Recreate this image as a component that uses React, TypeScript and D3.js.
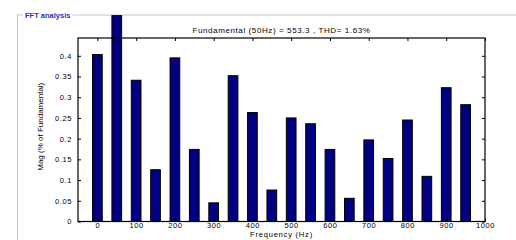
import { useRef, useEffect } from "react";
import * as d3 from "d3";

// harmonic frequencies (Hz) and magnitudes (% of fundamental)
const FREQS = [0, 50, 100, 150, 200, 250, 300, 350, 400, 450, 500, 550, 600, 650, 700, 750, 800, 850, 900, 950];
const MAGS = [0.403, 0.497, 0.341, 0.125, 0.395, 0.174, 0.045, 0.352, 0.263, 0.076, 0.25, 0.236, 0.174, 0.056, 0.197, 0.152, 0.245, 0.109, 0.323, 0.282];
const X_TICKS = [0, 100, 200, 300, 400, 500, 600, 700, 800, 900, 1000];
const Y_TICKS = [0, 0.05, 0.1, 0.15, 0.2, 0.25, 0.3, 0.35, 0.4];

const TITLE = "Fundamental (50Hz) = 553.3 , THD= 1.63%";
const X_LABEL = "Frequency (Hz)";
const Y_LABEL = "Mag (% of Fundamental)";
const PANEL_LABEL = "FFT analysis";

const W = 516;
const H = 240;

export default function App() {
  const svgRef = useRef<SVGSVGElement>(null);

  useEffect(() => {
    if (!svgRef.current) return;
    const svg = d3.select(svgRef.current);
    svg.selectAll("*").remove();

    const margin = { top: 38, right: 31, bottom: 18.5, left: 78 };
    const width = W - margin.left - margin.right;
    const height = H - margin.top - margin.bottom;
    const font = "Arial, 'Liberation Sans', sans-serif";

    // panel frame
    svg.append("line")
      .attr("x1", 17).attr("x2", W).attr("y1", 15).attr("y2", 15)
      .attr("stroke", "#e2e2e2").attr("stroke-width", 2);
    svg.append("line")
      .attr("x1", 17.5).attr("x2", 17.5).attr("y1", 14).attr("y2", H)
      .attr("stroke", "#c4c4c4");
    const label = svg.append("text")
      .attr("x", 25).attr("y", 18)
      .attr("fill", "#2b2bd0")
      .style("font-family", font)
      .style("font-size", "7.5px")
      .style("font-weight", "bold")
      .text(PANEL_LABEL);
    const bb = (label.node() as SVGTextElement).getBBox();
    svg.insert("rect", "text")
      .attr("x", bb.x - 2).attr("y", 13)
      .attr("width", bb.width + 4).attr("height", 4)
      .attr("fill", "white");

    const x = d3.scaleLinear().domain([-50, 1000]).range([0, width]);
    const y = d3.scaleLinear().domain([0, 0.443]).range([height, 0]);
    const barW = x(25) - x(0);

    const g = svg.append("g").attr("transform", `translate(${margin.left},${margin.top})`);

    // bars (not clipped: the 50 Hz bar overshoots the axes)
    g.selectAll("rect.bar")
      .data(FREQS.map((f, i) => ({ f, v: MAGS[i] })))
      .enter()
      .append("rect")
      .attr("class", "bar")
      .attr("x", (d) => x(d.f) - barW / 2)
      .attr("y", (d) => y(d.v))
      .attr("width", barW)
      .attr("height", (d) => y(0) - y(d.v))
      .attr("fill", "#000080")
      .attr("stroke", "#000")
      .attr("stroke-width", 1);

    const styleAxis = (sel: d3.Selection<SVGGElement, unknown, null, undefined>, showText: boolean) => {
      sel.select(".domain").remove();
      sel.selectAll("line").attr("stroke", "#000");
      sel.selectAll("text")
        .attr("fill", "#000")
        .style("font-family", font)
        .style("font-size", "7.5px")
        .style("letter-spacing", "0.6px")
        .style("display", showText ? null : "none");
    };

    g.append("g")
      .attr("transform", `translate(0,${height})`)
      .call(d3.axisBottom(x).tickValues(X_TICKS).tickSize(-3).tickPadding(1).tickFormat(d3.format("d")))
      .call((s) => styleAxis(s, true));
    g.append("g")
      .call(d3.axisTop(x).tickValues(X_TICKS).tickSize(-3).tickFormat(() => ""))
      .call((s) => styleAxis(s, false));
    g.append("g")
      .call(d3.axisLeft(y).tickValues(Y_TICKS).tickSize(-3).tickPadding(6).tickFormat((d) => `${+d}`))
      .call((s) => styleAxis(s, true));
    g.append("g")
      .attr("transform", `translate(${width},0)`)
      .call(d3.axisRight(y).tickValues(Y_TICKS).tickSize(-3).tickFormat(() => ""))
      .call((s) => styleAxis(s, false));

    // axes box
    g.append("rect")
      .attr("x", 0).attr("y", 0)
      .attr("width", width).attr("height", height)
      .attr("fill", "none")
      .attr("stroke", "#000")
      .attr("stroke-width", 1.2);

    g.append("text")
      .attr("x", width / 2).attr("y", -5)
      .attr("text-anchor", "middle")
      .style("font-family", font)
      .style("font-size", "8px")
      .style("letter-spacing", "0.6px")
      .text(TITLE);

    g.append("text")
      .attr("x", width / 2).attr("y", height + 15.5)
      .attr("text-anchor", "middle")
      .style("font-family", font)
      .style("font-size", "7.5px")
      .style("letter-spacing", "0.8px")
      .text(X_LABEL);

    g.append("text")
      .attr("transform", `translate(-35,${height / 2 - 3}) rotate(-90)`)
      .attr("text-anchor", "middle")
      .style("font-family", font)
      .style("font-size", "8px")
      .text(Y_LABEL);
  }, []);

  return (
    <svg
      ref={svgRef}
      width={W}
      height={H}
      style={{ position: "absolute", left: 0, top: 0, background: "white" }}
    />
  );
}
